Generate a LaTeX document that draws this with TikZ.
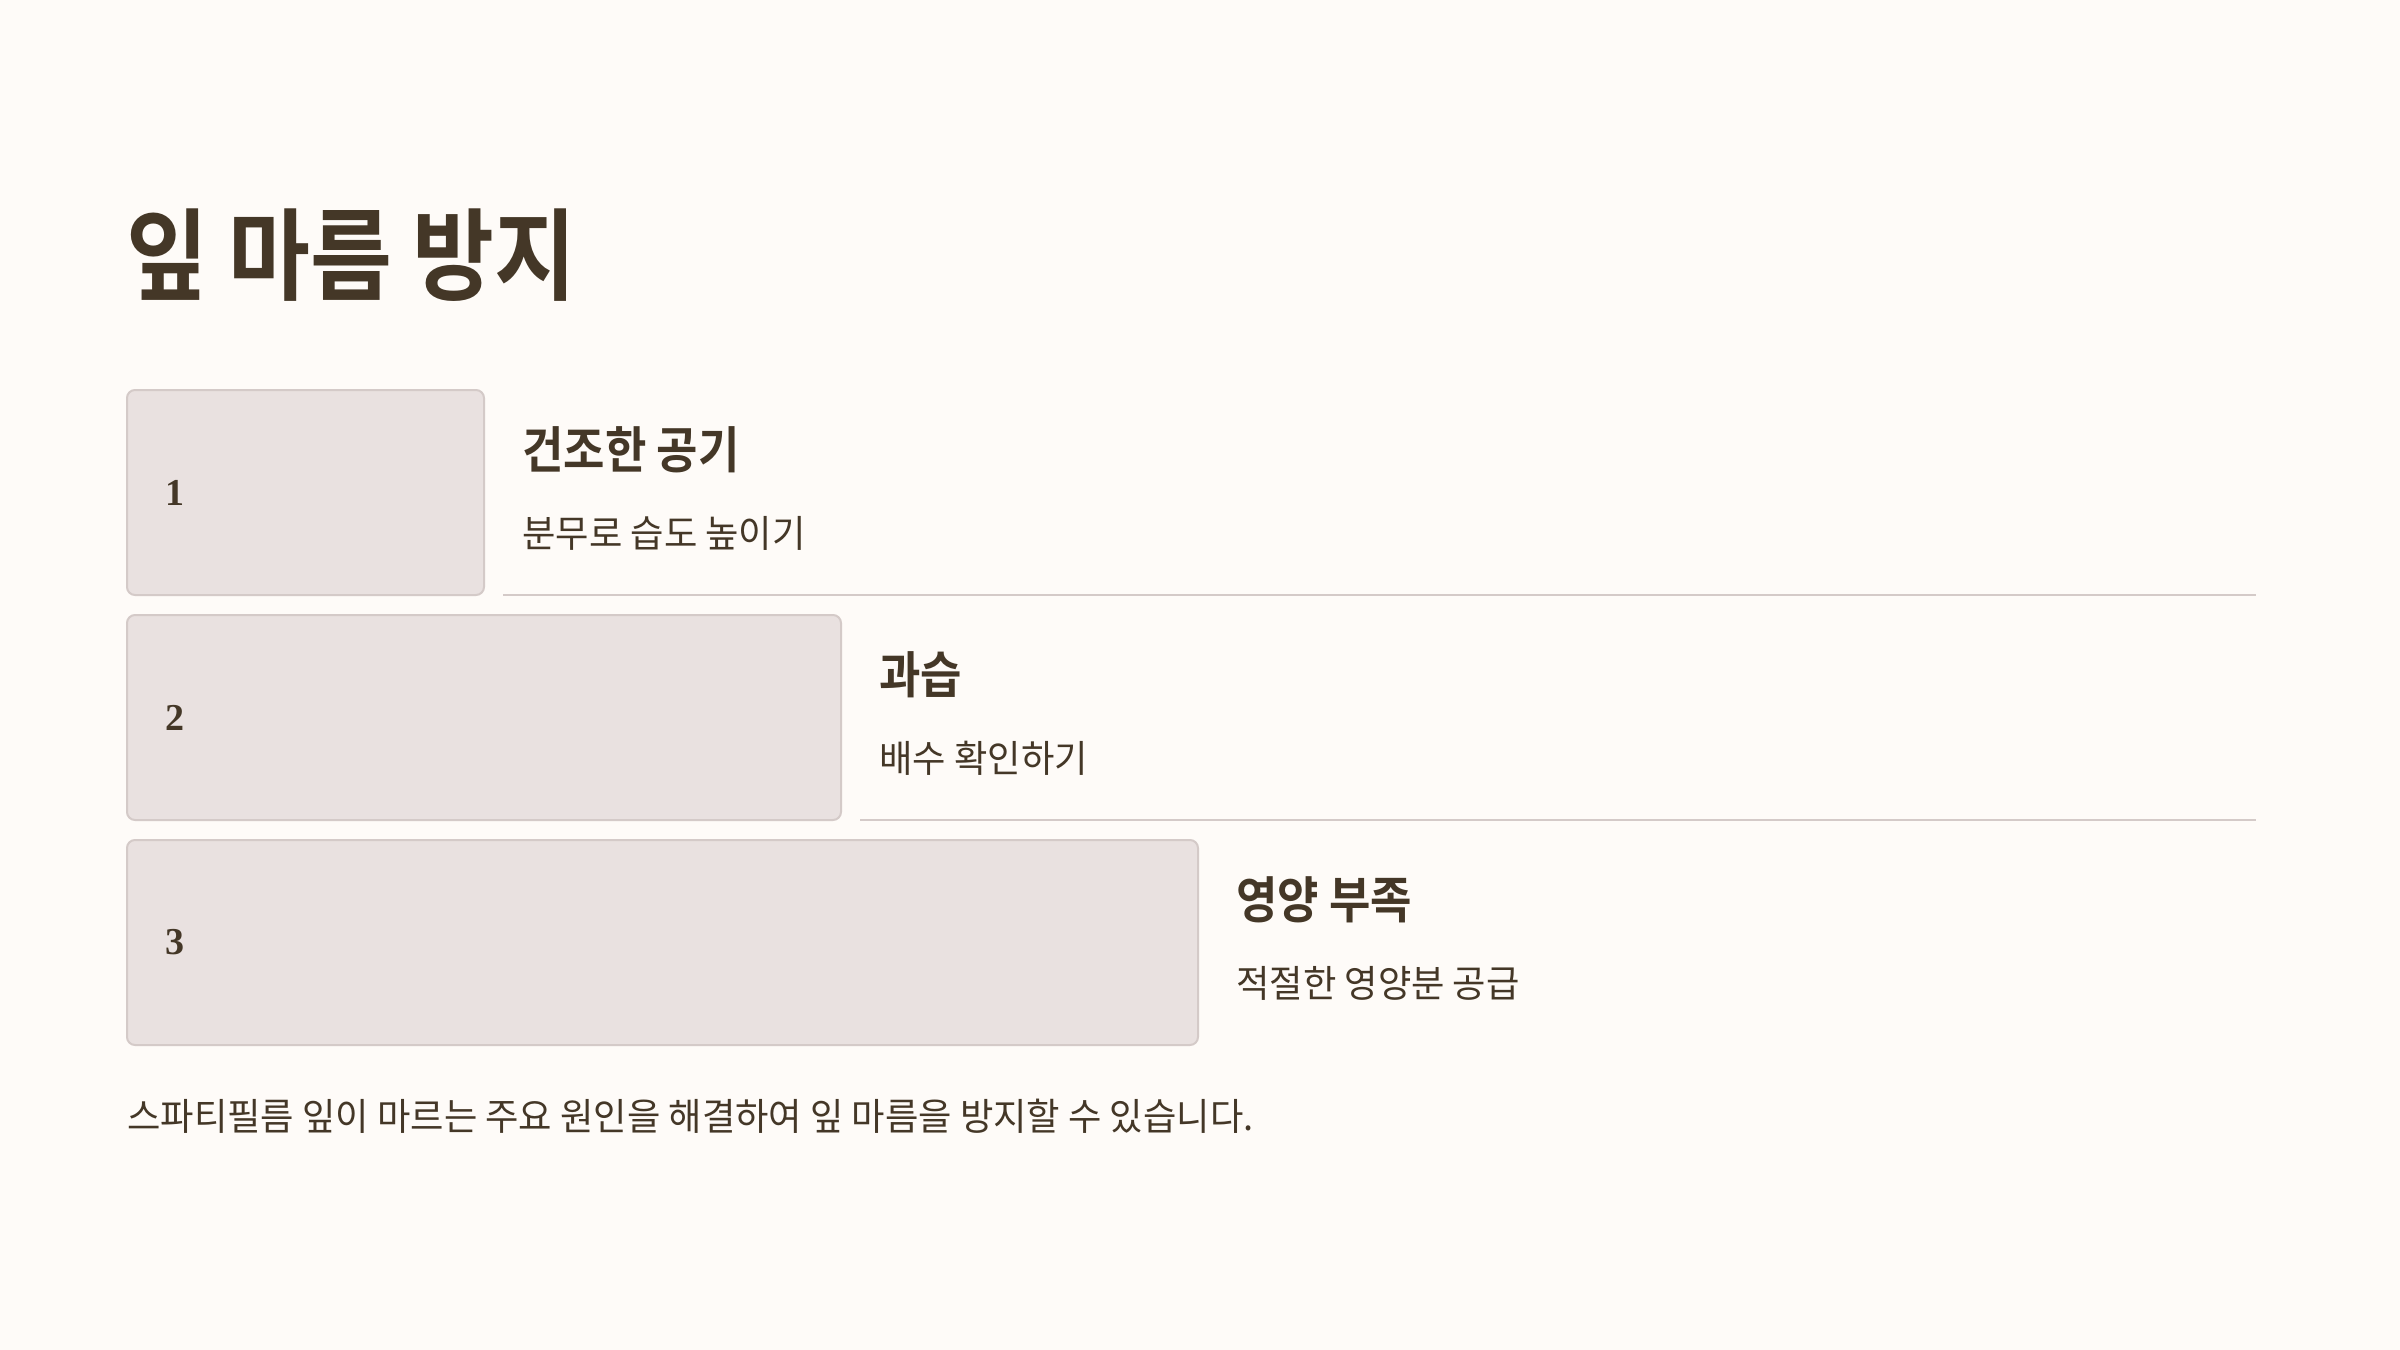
\documentclass[tikz,border=0pt]{standalone}
\usepackage{fontspec}
\newfontfamily\kr{Noto Sans CJK KR}[BoldFont={Noto Sans CJK KR Bold}]
\newfontfamily\numfont{Liberation Serif}
\usetikzlibrary{calc}
\definecolor{bgc}{HTML}{FEFBF8}
\definecolor{boxfill}{HTML}{E9E1E0}
\definecolor{boxline}{HTML}{D4CAC8}
\definecolor{ink}{HTML}{443727}
\newcommand{\hdtxt}[1]{\scalebox{0.9}[1]{#1}}
\newcommand{\sbtxt}[1]{\scalebox{0.965}[1]{#1}}
\tikzset{
  stepbox/.style={draw=boxline, fill=boxfill, line width=1pt, rounded corners=4pt,
    inner sep=0pt, outer sep=0pt, anchor=north west, minimum height=102.5pt},
  numlabel/.style={anchor=west, inner sep=0pt, text=ink, font=\numfont\bfseries\fontsize{19}{22}\selectfont},
  headlabel/.style={anchor=base west, inner sep=0pt, text=ink, font=\kr\bfseries\fontsize{25}{30}\selectfont},
  sublabel/.style={anchor=base west, inner sep=0pt, text=ink, font=\kr\fontsize{18.8}{24}\selectfont},
  sepline/.style={draw=boxline, line width=1pt}
}
\begin{document}
\begin{tikzpicture}[x=0.5pt,y=-0.5pt]
\fill[bgc] (0,0) rectangle (2400,1350);
\useasboundingbox (0,0) rectangle (2400,1350);
\node[anchor=base west, inner sep=0pt, text=ink, font=\kr\bfseries\fontsize{50}{60}\selectfont] (title) at (126,292) {\scalebox{0.89}[1]{잎 마름 방지}};
% boxes
\node[stepbox, minimum width=178.5pt] (b1) at (127,390) {};
\node[stepbox, minimum width=357pt] (b2) at (127,615) {};
\node[stepbox, minimum width=535.5pt] (b3) at (127,840) {};
\node[numlabel] (n1) at ($(b1.west)+(38,0)$) {1};
\node[numlabel] (n2) at ($(b2.west)+(38,0)$) {2};
\node[numlabel] (n3) at ($(b3.west)+(38,0)$) {3};
% texts
\node[headlabel] (h1) at ($(b1.north east)+(38,78)$) {\hdtxt{건조한 공기}};
\node[sublabel] (s1) at ($(b1.north east)+(38,157)$) {\sbtxt{분무로 습도 높이기}};
\node[headlabel] (h2) at ($(b2.north east)+(38,78)$) {\hdtxt{과습}};
\node[sublabel] (s2) at ($(b2.north east)+(38,157)$) {\sbtxt{배수 확인하기}};
\node[headlabel] (h3) at ($(b3.north east)+(38,78)$) {\hdtxt{영양 부족}};
\node[sublabel] (s3) at ($(b3.north east)+(38,157)$) {\sbtxt{적절한 영양분 공급}};
% separators
\coordinate (e1) at (2256,595);
\coordinate (e2) at (2256,820);
\draw[sepline] ($(b1.south east)+(19,0)$) -- (e1);
\draw[sepline] ($(b2.south east)+(19,0)$) -- (e2);
% footer
\node[sublabel] (foot) at (127,1130) {\sbtxt{스파티필름 잎이 마르는 주요 원인을 해결하여 잎 마름을 방지할 수 있습니다.}};
\end{tikzpicture}
\end{document}
